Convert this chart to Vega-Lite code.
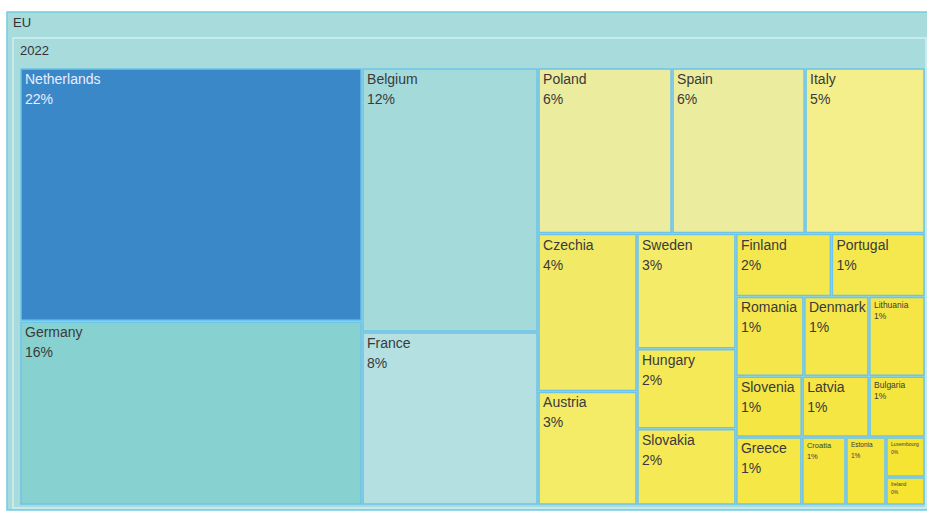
{
  "$schema": "https://vega.github.io/schema/vega-lite/v6.json",
  "width": 927,
  "height": 511,
  "padding": 0,
  "autosize": "none",
  "background": "#ffffff",
  "config": {"view": {"stroke": null}},
  "data": {
    "values": [
      {"country": "Netherlands", "value": 0.219, "ord": 1, "region": "EU", "year": "2022", "g1": "C1", "g2": "NL", "g3": "NL", "g4": "NL", "g5": "NL", "g6": "NL"},
      {"country": "Germany", "value": 0.159, "ord": 2, "region": "EU", "year": "2022", "g1": "C1", "g2": "DE", "g3": "DE", "g4": "DE", "g5": "DE", "g6": "DE"},
      {"country": "Belgium", "value": 0.1175, "ord": 3, "region": "EU", "year": "2022", "g1": "C2", "g2": "BE", "g3": "BE", "g4": "BE", "g5": "BE", "g6": "BE"},
      {"country": "France", "value": 0.077, "ord": 4, "region": "EU", "year": "2022", "g1": "C2", "g2": "FR", "g3": "FR", "g4": "FR", "g5": "FR", "g6": "FR"},
      {"country": "Poland", "value": 0.0561, "ord": 5, "region": "EU", "year": "2022", "g1": "C3", "g2": "Top", "g3": "PL", "g4": "PL", "g5": "PL", "g6": "PL"},
      {"country": "Spain", "value": 0.0557, "ord": 6, "region": "EU", "year": "2022", "g1": "C3", "g2": "Top", "g3": "ES", "g4": "ES", "g5": "ES", "g6": "ES"},
      {"country": "Italy", "value": 0.0502, "ord": 7, "region": "EU", "year": "2022", "g1": "C3", "g2": "Top", "g3": "IT", "g4": "IT", "g5": "IT", "g6": "IT"},
      {"country": "Czechia", "value": 0.0395, "ord": 8, "region": "EU", "year": "2022", "g1": "C3", "g2": "Bot", "g3": "A", "g4": "CZ", "g5": "CZ", "g6": "CZ"},
      {"country": "Austria", "value": 0.0284, "ord": 9, "region": "EU", "year": "2022", "g1": "C3", "g2": "Bot", "g3": "A", "g4": "AT", "g5": "AT", "g6": "AT"},
      {"country": "Sweden", "value": 0.0288, "ord": 10, "region": "EU", "year": "2022", "g1": "C3", "g2": "Bot", "g3": "B", "g4": "SE", "g5": "SE", "g6": "SE"},
      {"country": "Hungary", "value": 0.020, "ord": 11, "region": "EU", "year": "2022", "g1": "C3", "g2": "Bot", "g3": "B", "g4": "HU", "g5": "HU", "g6": "HU"},
      {"country": "Slovakia", "value": 0.0191, "ord": 12, "region": "EU", "year": "2022", "g1": "C3", "g2": "Bot", "g3": "B", "g4": "SK", "g5": "SK", "g6": "SK"},
      {"country": "Finland", "value": 0.0152, "ord": 13, "region": "EU", "year": "2022", "g1": "C3", "g2": "Bot", "g3": "C", "g4": "R1", "g5": "FI", "g6": "FI"},
      {"country": "Portugal", "value": 0.0149, "ord": 14, "region": "EU", "year": "2022", "g1": "C3", "g2": "Bot", "g3": "C", "g4": "R1", "g5": "PT", "g6": "PT"},
      {"country": "Romania", "value": 0.0137, "ord": 15, "region": "EU", "year": "2022", "g1": "C3", "g2": "Bot", "g3": "C", "g4": "R2", "g5": "RO", "g6": "RO"},
      {"country": "Denmark", "value": 0.0131, "ord": 16, "region": "EU", "year": "2022", "g1": "C3", "g2": "Bot", "g3": "C", "g4": "R2", "g5": "DK", "g6": "DK"},
      {"country": "Lithuania", "value": 0.0113, "ord": 17, "region": "EU", "year": "2022", "g1": "C3", "g2": "Bot", "g3": "C", "g4": "R2", "g5": "LT", "g6": "LT"},
      {"country": "Slovenia", "value": 0.0102, "ord": 18, "region": "EU", "year": "2022", "g1": "C3", "g2": "Bot", "g3": "C", "g4": "R3", "g5": "SI", "g6": "SI"},
      {"country": "Latvia", "value": 0.0103, "ord": 19, "region": "EU", "year": "2022", "g1": "C3", "g2": "Bot", "g3": "C", "g4": "R3", "g5": "LV", "g6": "LV"},
      {"country": "Bulgaria", "value": 0.0086, "ord": 20, "region": "EU", "year": "2022", "g1": "C3", "g2": "Bot", "g3": "C", "g4": "R3", "g5": "BG", "g6": "BG"},
      {"country": "Greece", "value": 0.01135, "ord": 21, "region": "EU", "year": "2022", "g1": "C3", "g2": "Bot", "g3": "C", "g4": "R4", "g5": "EL", "g6": "EL"},
      {"country": "Croatia", "value": 0.00757, "ord": 22, "region": "EU", "year": "2022", "g1": "C3", "g2": "Bot", "g3": "C", "g4": "R4", "g5": "HR", "g6": "HR"},
      {"country": "Estonia", "value": 0.00688, "ord": 23, "region": "EU", "year": "2022", "g1": "C3", "g2": "Bot", "g3": "C", "g4": "R4", "g5": "EE", "g6": "EE"},
      {"country": "Luxembourg", "value": 0.00395, "ord": 24, "region": "EU", "year": "2022", "g1": "C3", "g2": "Bot", "g3": "C", "g4": "R4", "g5": "S", "g6": "LU"},
      {"country": "Ireland", "value": 0.00276, "ord": 25, "region": "EU", "year": "2022", "g1": "C3", "g2": "Bot", "g3": "C", "g4": "R4", "g5": "S", "g6": "IE"}
    ]
  },
  "transform": [
    {"stack": "value", "groupby": [], "sort": [{"field": "ord"}], "offset": "normalize", "as": ["s1", "e1"]},
    {"joinaggregate": [{"op": "min", "field": "s1", "as": "a1"}, {"op": "max", "field": "e1", "as": "b1"}], "groupby": ["g1"]},
    {"stack": "value", "groupby": ["g1"], "sort": [{"field": "ord"}], "offset": "normalize", "as": ["s2", "e2"]},
    {"joinaggregate": [{"op": "min", "field": "s2", "as": "a2"}, {"op": "max", "field": "e2", "as": "b2"}], "groupby": ["g1", "g2"]},
    {"stack": "value", "groupby": ["g1", "g2"], "sort": [{"field": "ord"}], "offset": "normalize", "as": ["s3", "e3"]},
    {"joinaggregate": [{"op": "min", "field": "s3", "as": "a3"}, {"op": "max", "field": "e3", "as": "b3"}], "groupby": ["g1", "g2", "g3"]},
    {"stack": "value", "groupby": ["g1", "g2", "g3"], "sort": [{"field": "ord"}], "offset": "normalize", "as": ["s4", "e4"]},
    {"joinaggregate": [{"op": "min", "field": "s4", "as": "a4"}, {"op": "max", "field": "e4", "as": "b4"}], "groupby": ["g1", "g2", "g3", "g4"]},
    {"stack": "value", "groupby": ["g1", "g2", "g3", "g4"], "sort": [{"field": "ord"}], "offset": "normalize", "as": ["s5", "e5"]},
    {"joinaggregate": [{"op": "min", "field": "s5", "as": "a5"}, {"op": "max", "field": "e5", "as": "b5"}], "groupby": ["g1", "g2", "g3", "g4", "g5"]},
    {"stack": "value", "groupby": ["g1", "g2", "g3", "g4", "g5"], "sort": [{"field": "ord"}], "offset": "normalize", "as": ["a6", "b6"]},
    {"calculate": "datum.a1 + (datum.b1 - datum.a1) * datum.a3", "as": "xa"},
    {"calculate": "datum.a1 + (datum.b1 - datum.a1) * datum.b3", "as": "xb"},
    {"calculate": "datum.xa + (datum.xb - datum.xa) * datum.a5", "as": "x0"},
    {"calculate": "datum.xa + (datum.xb - datum.xa) * datum.b5", "as": "x1"},
    {"calculate": "datum.a2 + (datum.b2 - datum.a2) * datum.a4", "as": "ya"},
    {"calculate": "datum.a2 + (datum.b2 - datum.a2) * datum.b4", "as": "yb"},
    {"calculate": "datum.ya + (datum.yb - datum.ya) * datum.a6", "as": "y0"},
    {"calculate": "datum.ya + (datum.yb - datum.ya) * datum.b6", "as": "y1"},
    {"calculate": "datum.x1 - datum.x0", "as": "w"}
  ],
  "layer": [
    {
      "transform": [{"aggregate": [{"op": "min", "field": "x0", "as": "bx0"}, {"op": "max", "field": "x1", "as": "bx1"}, {"op": "min", "field": "y0", "as": "by0"}, {"op": "max", "field": "y1", "as": "by1"}], "groupby": ["region"]}],
      "mark": {"type": "rect", "fill": "#a7dbdc", "stroke": "#74cbe2", "strokeWidth": 1.5, "xOffset": -13, "x2Offset": 4, "yOffset": -56, "y2Offset": 5},
      "encoding": {
        "x": {"field": "bx0", "type": "quantitative", "axis": null, "scale": {"domain": [-0.022099, 1.00221], "nice": false, "zero": false}},
        "x2": {"field": "bx1"},
        "y": {"field": "by0", "type": "quantitative", "axis": null, "scale": {"domain": [-0.155606, 1.01373], "nice": false, "zero": false, "reverse": true}},
        "y2": {"field": "by1"}
      }
    },
    {
      "transform": [{"aggregate": [{"op": "min", "field": "x0", "as": "bx0"}, {"op": "max", "field": "x1", "as": "bx1"}, {"op": "min", "field": "y0", "as": "by0"}, {"op": "max", "field": "y1", "as": "by1"}], "groupby": ["region", "year"]}],
      "mark": {"type": "rect", "fill": "#a7dbdc", "stroke": "#d2eff2", "strokeWidth": 1.5, "xOffset": -7, "x2Offset": 1, "yOffset": -30, "y2Offset": 3},
      "encoding": {
        "x": {"field": "bx0", "type": "quantitative"},
        "x2": {"field": "bx1"},
        "y": {"field": "by0", "type": "quantitative"},
        "y2": {"field": "by1"}
      }
    },
    {
      "transform": [{"aggregate": [{"op": "min", "field": "x0", "as": "bx0"}, {"op": "min", "field": "y0", "as": "by0"}], "groupby": ["region"]}],
      "mark": {"type": "text", "align": "left", "baseline": "middle", "dx": -7, "dy": -45, "font": "Liberation Sans", "fontSize": 13, "color": "#333333"},
      "encoding": {
        "x": {"field": "bx0", "type": "quantitative"},
        "y": {"field": "by0", "type": "quantitative"},
        "text": {"field": "region"}
      }
    },
    {
      "transform": [{"aggregate": [{"op": "min", "field": "x0", "as": "bx0"}, {"op": "min", "field": "y0", "as": "by0"}], "groupby": ["region", "year"]}],
      "mark": {"type": "text", "align": "left", "baseline": "middle", "dx": 0, "dy": -17, "font": "Liberation Sans", "fontSize": 13, "color": "#333333"},
      "encoding": {
        "x": {"field": "bx0", "type": "quantitative"},
        "y": {"field": "by0", "type": "quantitative"},
        "text": {"field": "year"}
      }
    },
    {
      "mark": {"type": "rect", "stroke": "#6ec3e8", "strokeWidth": 1.5, "xOffset": 1, "x2Offset": -1, "yOffset": 1, "y2Offset": -1},
      "encoding": {
        "x": {"field": "x0", "type": "quantitative"},
        "x2": {"field": "x1"},
        "y": {"field": "y0", "type": "quantitative"},
        "y2": {"field": "y1"},
        "color": {
          "field": "value", "type": "quantitative", "legend": null,
          "scale": {
            "domain": [0.003, 0.013, 0.029, 0.04, 0.0502, 0.056, 0.077, 0.1175, 0.159, 0.219],
            "range": ["#f6e431", "#f5e74a", "#f4ec68", "#f2ea66", "#f4ef8a", "#ecec9f", "#b4e0e1", "#a4dada", "#87d1d0", "#3b88c8"],
            "interpolate": "rgb"
          }
        }
      }
    },
    {
      "mark": {"type": "text", "align": "left", "baseline": "top", "dx": 5, "dy": 5, "font": "Liberation Sans"},
      "encoding": {
        "x": {"field": "x0", "type": "quantitative"},
        "y": {"field": "y0", "type": "quantitative"},
        "text": {"field": "country"},
        "color": {"condition": {"test": "datum.value > 0.2", "value": "#ececff"}, "value": "#3a3a3a"},
        "size": {
          "condition": {"test": "datum.value < 0.005", "value": 5},
          "field": "w", "type": "quantitative", "legend": null,
          "scale": {"type": "threshold", "domain": [0.046, 0.052, 0.066], "range": [6.5, 7.5, 8.5, 14]}
        }
      }
    },
    {
      "mark": {"type": "text", "align": "left", "baseline": "top", "dx": 5, "dy": {"expr": "datum.value < 0.005 ? 13 : datum.w < 0.066 ? 16 : 25"}, "font": "Liberation Sans"},
      "encoding": {
        "x": {"field": "x0", "type": "quantitative"},
        "y": {"field": "y0", "type": "quantitative"},
        "text": {"field": "value", "format": ".0%"},
        "color": {"condition": {"test": "datum.value > 0.2", "value": "#ececff"}, "value": "#3a3a3a"},
        "size": {
          "condition": {"test": "datum.value < 0.005", "value": 5},
          "field": "w", "type": "quantitative", "legend": null,
          "scale": {"type": "threshold", "domain": [0.046, 0.052, 0.066], "range": [6.5, 7.5, 8.5, 14]}
        }
      }
    }
  ]
}
